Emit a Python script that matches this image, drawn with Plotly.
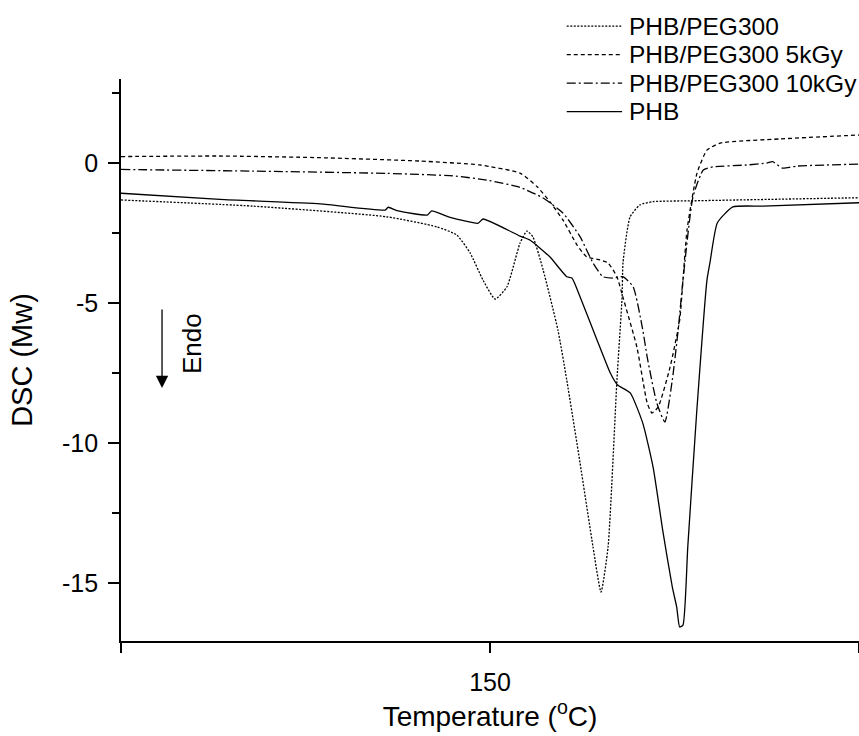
import plotly.graph_objects as go

# PHB/PEG300 (dotted)
peg_t = [100.0, 117.9, 136.0, 142.8, 145.5, 147.3, 149.05, 150.7, 152.3, 154.07, 155.0, 155.8,
         157.2, 159.2, 160.4, 162.2, 163.96, 165.04, 166.0, 167.2, 167.9, 168.02, 168.97,
         170.3, 172.1, 177.5, 200.0]
peg_y = [-1.32, -1.54, -1.92, -2.28, -2.57, -3.21, -4.18, -4.86, -4.42, -2.86, -2.43, -2.63,
         -3.82, -5.96, -7.75, -10.71, -13.71, -15.32, -13.71, -7.75, -4.79, -3.57, -1.93,
         -1.5, -1.38, -1.35, -1.24]

# PHB/PEG300 5kGy (dashed)
k5_t = [100.0, 113.4, 127.0, 140.5, 148.6, 154.07, 156.4, 158.1, 159.9, 161.8, 163.1, 164.9,
        166.0, 167.2, 168.0, 169.9, 171.3, 171.95, 172.8, 174.4, 175.7, 176.15, 176.7, 178.05,
        179.4, 181.2, 189.3, 200.0]
k5_y = [0.23, 0.25, 0.19, 0.07, -0.07, -0.36, -0.85, -1.38, -2.04, -2.93, -3.35, -3.46,
        -3.57, -4.06, -4.78, -6.57, -8.57, -8.93, -8.71, -7.29, -5.61, -4.18, -2.39, -0.36,
        0.46, 0.71, 0.86, 1.0]

# PHB/PEG300 10kGy (dash-dot)
k10_t = [100.0, 117.9, 136.0, 145.0, 149.6, 154.07, 157.2, 159.9, 162.2, 163.96, 165.3, 166.7,
         168.0, 169.4, 170.7, 171.3, 172.6, 173.7, 174.7, 175.5, 176.15, 177.5, 178.9, 180.2,
         184.8, 187.5, 188.3, 189.6, 191.6, 200.0]
k10_y = [-0.23, -0.29, -0.37, -0.46, -0.61, -0.87, -1.25, -1.79, -2.63, -3.57, -4.06, -4.11,
         -4.06, -4.42, -5.96, -6.93, -8.57, -9.25, -7.75, -5.96, -4.18, -1.21, -0.25, -0.14,
         -0.07, 0.0, 0.05, -0.18, -0.11, -0.04]

# PHB (solid)
phb_t = [100.0, 113.4, 127.0, 135.8, 136.2, 137.4, 141.5, 142.1, 144.6, 148.4, 149.05, 154.07,
         155.4, 158.1, 160.4, 161.1, 162.2, 164.5, 166.3, 167.3, 169.0, 170.7, 172.1, 173.4,
         174.7, 175.3, 175.7, 176.15, 176.8, 178.0, 179.4, 179.8, 180.8, 182.9, 187.0, 200.0]
phb_y = [-1.08, -1.30, -1.46, -1.68, -1.58, -1.70, -1.86, -1.71, -1.94, -2.15, -2.0, -2.61,
         -2.75, -3.35, -4.06, -4.11, -4.78, -6.32, -7.5, -7.93, -8.21, -9.29, -10.86, -13.11,
         -15.14, -15.86, -16.57, -16.5, -13.71, -8.93, -4.18, -3.57, -2.14, -1.57, -1.54, -1.42]

x_ticks = [100, 150, 200]
x_labels = ["", "150", ""]
y_ticks = [-15, -10, -5, 0]
y_labels = ["-15", "-10", "-5", "0"]
y_minor = [-12.5, -7.5, -2.5, 2.5]

font = "Liberation Sans, Arial, sans-serif"

series = [
    ("PHB/PEG300", peg_t, peg_y, "2px,1.5px"),
    ("PHB/PEG300 5kGy", k5_t, k5_y, "4px,3px"),
    ("PHB/PEG300 10kGy", k10_t, k10_y, "9px,3px,2px,3px"),
    ("PHB", phb_t, phb_y, "solid"),
]

fig = go.Figure()
for name, t, y, dash in series:
    fig.add_trace(go.Scatter(
        x=t, y=y, mode="lines", name=name, showlegend=False,
        line=dict(color="black", width=1.3, dash=dash, shape="spline", smoothing=0.5),
    ))

# hand-made legend (tighter rows than plotly's own legend)
row_top = 1.094
row_gap = 0.0507
for i, (name, t, y, dash) in enumerate(series):
    ry = row_top - i * row_gap
    fig.add_shape(type="line", xref="paper", yref="paper",
                  x0=0.604, x1=0.679, y0=ry, y1=ry,
                  line=dict(color="black", width=1.3, dash=dash))
    fig.add_annotation(x=0.686, y=ry, xref="paper", yref="paper", text=name,
                       showarrow=False, xanchor="left", yanchor="middle",
                       font=dict(size=24.5, family=font, color="black"))

fig.add_annotation(
    x=0.0556, y=0.45, xref="paper", yref="paper", text="",
    showarrow=True, ax=0, ay=-80, arrowhead=2, arrowsize=1.9, arrowwidth=1.3,
    arrowcolor="black",
)
fig.add_annotation(
    x=0.096, y=0.53, xref="paper", yref="paper", text="Endo", textangle=-90,
    xanchor="center", yanchor="middle",
    showarrow=False, font=dict(size=26, color="black", family=font),
)

fig.update_layout(
    width=859, height=736,
    margin=dict(l=121, r=0, t=79, b=95),
    plot_bgcolor="white", paper_bgcolor="white",
    font=dict(family=font, color="black"),
    showlegend=False,
    xaxis=dict(
        range=[100, 200], tickvals=x_ticks, ticktext=x_labels, automargin=False,
        showgrid=False, zeroline=False, showline=True, linecolor="black", linewidth=1.6,
        ticks="outside", ticklen=10, tickwidth=1.6, tickcolor="black",
        ticklabelstandoff=8, tickfont=dict(size=25),
        title=dict(text="Temperature (<sup>o</sup>C)", font=dict(size=28), standoff=8),
    ),
    yaxis=dict(
        range=[-17.07, 3.0], tickvals=y_ticks, ticktext=y_labels, automargin=False,
        showgrid=False, zeroline=False, showline=True, linecolor="black", linewidth=1.6,
        ticks="outside", ticklen=11, tickwidth=1.6, tickcolor="black",
        ticklabelstandoff=5, tickfont=dict(size=25),
        minor=dict(tickvals=y_minor, ticks="outside", ticklen=7, tickwidth=1.6,
                   tickcolor="black", showgrid=False),
        title=dict(text="DSC (Mw)", font=dict(size=29), standoff=21),
    ),
)

# drop the default body margin so the figure fills the window exactly
fig.write_html("out.html", config={"displayModeBar": False},
               post_script="document.body.style.margin='0';document.body.style.overflow='hidden';")
